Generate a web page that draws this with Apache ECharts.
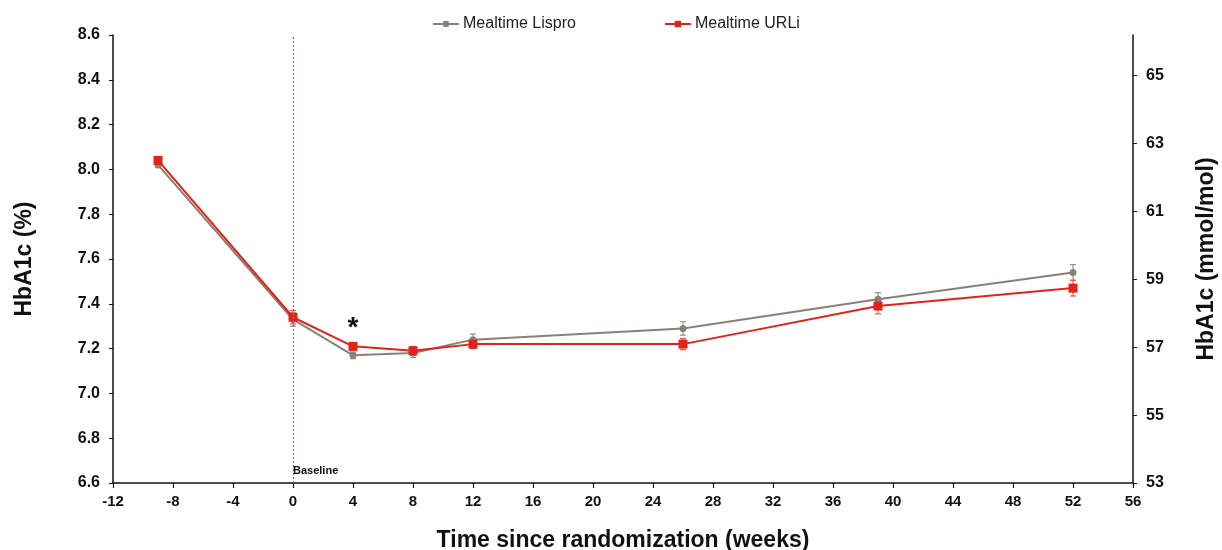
<!DOCTYPE html>
<html>
<head>
<meta charset="utf-8">
<script src="https://cdn.jsdelivr.net/npm/echarts@6/dist/echarts.min.js"></script>
<style>html,body{margin:0;padding:0;background:#fff}#c{width:1222px;height:550px}</style>
</head>
<body>
<div id="c"></div>
<script>
const weeks = [-9, 0, 4, 8, 12, 26, 39, 52];
const lisproMean = [8.02, 7.33, 7.17, 7.18, 7.24, 7.29, 7.42, 7.54];
const lisproErr = [0.01, 0.03, 0.015, 0.02, 0.025, 0.03, 0.03, 0.035];
const urliMean = [8.04, 7.34, 7.21, 7.19, 7.22, 7.22, 7.39, 7.47];
const urliErr = [0.01, 0.03, 0.015, 0.02, 0.02, 0.025, 0.035, 0.035];
const xTicks = {min: -12, max: 56, step: 4};
const leftTicks = {min: 6.6, max: 8.6, step: 0.2};
const rightTicks = {base: 53, top: 66.2, step: 2};

const GRAY = '#8a8078';
const RED = '#e2231a';
const FONT = 'Liberation Sans, Arial, sans-serif';

function pairs(xs, ys) { return xs.map((x, i) => [x, ys[i]]); }
function errData(xs, ys, es) { return xs.map((x, i) => [x, ys[i] - es[i], ys[i] + es[i]]); }

function errorBars(color) {
  return function (params, api) {
    const x = api.value(0);
    const lo = api.coord([x, api.value(1)]);
    const hi = api.coord([x, api.value(2)]);
    const w = 3;
    const style = {stroke: color, lineWidth: 1.2};
    return {
      type: 'group',
      children: [
        {type: 'line', shape: {x1: lo[0], y1: lo[1], x2: hi[0], y2: hi[1]}, style},
        {type: 'line', shape: {x1: lo[0] - w, y1: lo[1], x2: lo[0] + w, y2: lo[1]}, style},
        {type: 'line', shape: {x1: hi[0] - w, y1: hi[1], x2: hi[0] + w, y2: hi[1]}, style}
      ]
    };
  };
}

const chart = echarts.init(document.getElementById('c'), null, {renderer: 'canvas'});
chart.setOption({
  animation: false,
  backgroundColor: '#fff',
  textStyle: {fontFamily: FONT},
  grid: {left: 113, right: 89, top: 35, bottom: 67, containLabel: false, outerBoundsMode: 'none'},
  legend: {
    top: 11,
    left: 427,
    itemGap: 88,
    itemWidth: 26,
    itemHeight: 8,
    textStyle: {fontSize: 16, color: '#222', fontFamily: FONT, padding: [0, 0, 0, -1]},
    data: ['Mealtime Lispro', 'Mealtime URLi']
  },
  xAxis: {
    type: 'value',
    min: xTicks.min, max: xTicks.max, interval: xTicks.step,
    name: 'Time since randomization (weeks)',
    nameLocation: 'middle',
    nameGap: 46,
    nameTextStyle: {fontSize: 23, fontWeight: 'bold', color: '#111', fontFamily: FONT},
    axisLine: {onZero: false, lineStyle: {color: '#111', width: 1.5}},
    axisTick: {show: true, inside: false, length: 5, lineStyle: {color: '#111', width: 1.2}},
    axisLabel: {fontSize: 15, fontWeight: 'bold', color: '#111', margin: 11, fontFamily: FONT},
    splitLine: {show: false}
  },
  yAxis: [
    {
      type: 'value',
      min: leftTicks.min, max: leftTicks.max, interval: leftTicks.step,
      name: 'HbA1c (%)',
      nameLocation: 'middle',
      nameGap: 77,
      nameRotate: 90,
      nameTextStyle: {fontSize: 23, fontWeight: 'bold', color: '#111'},
      axisLine: {show: true, onZero: false, lineStyle: {color: '#111', width: 1.5}},
      axisTick: {show: true, inside: false, length: 4, lineStyle: {color: '#111'}},
      axisLabel: {fontSize: 16, fontWeight: 'bold', color: '#111', margin: 13, formatter: v => v.toFixed(1)},
      splitLine: {show: false}
    },
    {
      type: 'value',
      position: 'right',
      min: 0, max: rightTicks.top - rightTicks.base, interval: rightTicks.step,
      name: 'HbA1c (mmol/mol)',
      nameLocation: 'middle',
      nameGap: 62,
      nameRotate: 90,
      nameTextStyle: {fontSize: 23, fontWeight: 'bold', color: '#111'},
      axisLine: {show: true, onZero: false, lineStyle: {color: '#111', width: 1.5}},
      axisTick: {show: true, inside: false, length: 4, lineStyle: {color: '#111'}},
      axisLabel: {fontSize: 16, fontWeight: 'bold', color: '#111', margin: 13, showMaxLabel: false,
        formatter: v => String(Math.round(v + rightTicks.base))},
      splitLine: {show: false}
    }
  ],
  series: [
    {
      name: 'Mealtime Lispro',
      type: 'line',
      data: pairs(weeks, lisproMean),
      symbol: 'circle',
      symbolSize: 7,
      itemStyle: {color: GRAY},
      lineStyle: {color: GRAY, width: 2},
      z: 3,
      markLine: {
        silent: true,
        symbol: 'none',
        label: {show: false},
        lineStyle: {color: '#3d85d6', type: [2, 2], width: 1.2, opacity: 1},
        emphasis: {disabled: true},
        data: [{xAxis: 0}]
      },
      markPoint: {
        symbol: 'circle', symbolSize: 0,
        label: {show: true, formatter: 'Baseline', position: 'right', distance: 0, offset: [0, -12],
          fontSize: 11, fontWeight: 'bold', color: '#111', fontFamily: FONT},
        data: [{coord: [0, leftTicks.min]}]
      }
    },
    {
      name: 'Mealtime URLi',
      type: 'line',
      data: pairs(weeks, urliMean),
      symbol: 'rect',
      symbolSize: 9,
      itemStyle: {color: RED},
      lineStyle: {color: RED, width: 2},
      z: 4,
      markPoint: {
        symbol: 'circle', symbolSize: 0,
        label: {show: true, formatter: '*', position: 'inside', fontSize: 28, fontWeight: 'bold', color: '#111'},
        data: [{coord: [4, 7.29]}]
      }
    },
    {
      type: 'custom',
      renderItem: errorBars('#9a918a'),
      data: errData(weeks, lisproMean, lisproErr),
      encode: {x: 0, y: [1, 2]},
      z: 2,
      silent: true
    },
    {
      type: 'custom',
      renderItem: errorBars('#ea5a52'),
      data: errData(weeks, urliMean, urliErr),
      encode: {x: 0, y: [1, 2]},
      z: 2,
      silent: true
    }
  ]
});
</script>
</body>
</html>
